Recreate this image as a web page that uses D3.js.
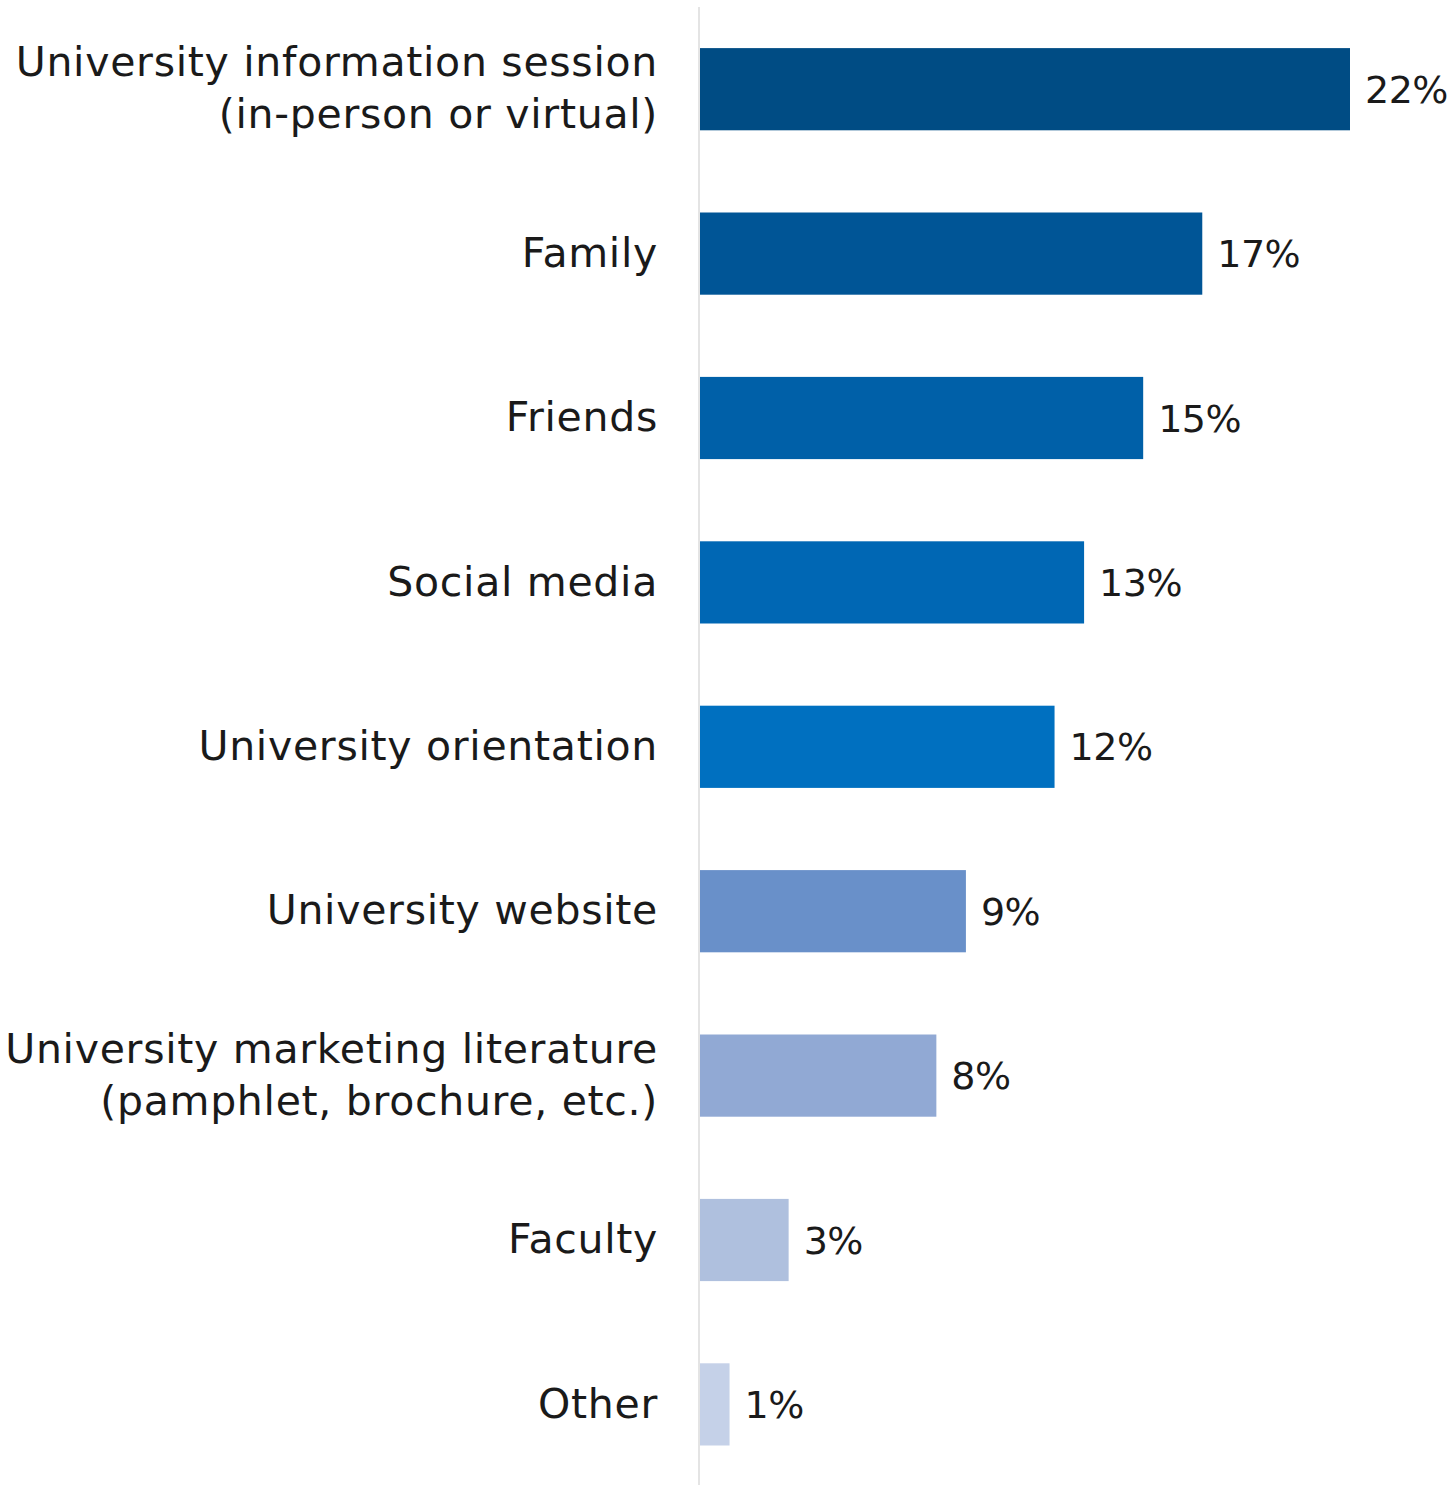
<!DOCTYPE html>
<html>
<head>
<meta charset="utf-8">
<script src="https://cdn.jsdelivr.net/npm/d3@7"></script>
<style>
  html, body { margin: 0; padding: 0; background: #fff; }
  svg { display: block; }
  text { font-family: "DejaVu Sans", "Open Sans", sans-serif; fill: #1a1a1a; }
</style>
</head>
<body>
<svg id="chart" width="1452" height="1485"></svg>
<script>
// Sources of information, share of respondents (%)
const categories = [
  ["University information session", "(in-person or virtual)"],
  ["Family"],
  ["Friends"],
  ["Social media"],
  ["University orientation"],
  ["University website"],
  ["University marketing literature", "(pamphlet, brochure, etc.)"],
  ["Faculty"],
  ["Other"]
];
const values = [22, 17, 15, 13, 12, 9, 8, 3, 1];
const barColors = ["#004c84", "#005596", "#0060a8", "#0067b4", "#0070c0",
                   "#6990c9", "#91a9d4", "#afc0de", "#c5d1e8"];

const width = 1452, height = 1485;
const x0 = 700;
const svg = d3.select("#chart");

const keys = categories.map((c, i) => i);

const x = d3.scaleLinear().domain([0, 22]).range([x0, 1350]);
const y = d3.scaleBand().domain(keys).range([7, 1486.6])
  .paddingInner(0.5).paddingOuter(0.25);

// bars
svg.append("g").selectAll("rect")
  .data(values)
  .join("rect")
  .attr("x", x(0))
  .attr("y", (d, i) => y(i))
  .attr("width", d => x(d) - x(0))
  .attr("height", y.bandwidth())
  .attr("fill", (d, i) => barColors[i]);

// value labels
svg.append("g").selectAll("text")
  .data(values)
  .join("text")
  .attr("x", d => x(d) + 15)
  .attr("y", (d, i) => y(i) + y.bandwidth() / 2)
  .attr("dy", "0.36em")
  .style("font-size", "38px")
  .style("letter-spacing", "-0.5px")
  .text(d => d + "%");

// category axis line
svg.append("line")
  .attr("x1", x0 - 1).attr("x2", x0 - 1)
  .attr("y1", 7).attr("y2", height)
  .attr("stroke", "#e4e4e4").attr("stroke-width", 2);

// category labels
const lineH = 52;
const labels = svg.append("g").selectAll("text")
  .data(categories)
  .join("text")
  .attr("text-anchor", "end")
  .style("font-size", "41px")
  .style("letter-spacing", "0.7px")
  .attr("transform", (d, i) => `translate(658, ${y(i) + y.bandwidth() / 2})`);
labels.selectAll("tspan")
  .data(d => d.map((t, j) => ({ t, j, n: d.length })))
  .join("tspan")
  .attr("x", 0)
  .attr("y", d => (d.j - (d.n - 1) / 2) * lineH)
  .attr("dy", "0.32em")
  .text(d => d.t);
</script>
</body>
</html>
